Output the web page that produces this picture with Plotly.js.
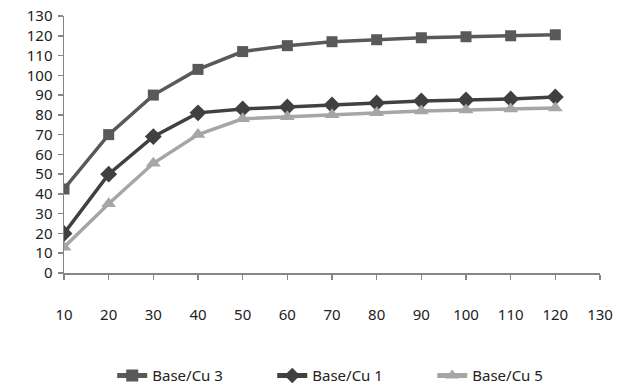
<!DOCTYPE html>
<html><head><meta charset="utf-8">
<script src="https://cdn.plot.ly/plotly-3.0.1.min.js"></script>
<style>body{margin:0;background:#fff}#c{width:628px;height:387px}</style>
</head><body><div id="c"></div>
<script>
const xs = [10,20,30,40,50,60,70,80,90,100,110,120];
const cu3 = [42.5,70,90,103,112,115,117,118,119,119.5,120,120.5];
const cu1 = [20,50,69,81,83,84,85,86,87,87.5,88,89];
const cu5 = [13,35,55.5,70,78,79,80,81,82,82.5,83,83.5];
const names = ['Base/Cu 3','Base/Cu 1','Base/Cu 5'];
const F = 'Noto Sans, DejaVu Sans, sans-serif';
const traces = [
 {x:xs,y:cu3,name:names[0],mode:'lines+markers',line:{color:'#595959',width:3.5},marker:{symbol:'square',size:11,color:'#595959'}},
 {x:xs,y:cu1,name:names[1],mode:'lines+markers',line:{color:'#404040',width:3.5},marker:{symbol:'diamond',size:13,color:'#404040'}},
 {x:xs,y:cu5,name:names[2],mode:'lines+markers',line:{color:'#a6a6a6',width:3.5},marker:{symbol:'triangle-up',size:13,color:'#a6a6a6'}}
];
const layout = {
 width:628,height:387,margin:{l:64,r:28,t:16,b:114,autoexpand:false},
 paper_bgcolor:'#fff',plot_bgcolor:'#fff',
 font:{family:F,size:15,color:'#222'},
 xaxis:{range:[10,130],dtick:10,tick0:10,showgrid:false,zeroline:false,showline:true,linecolor:'#868686',linewidth:1.5,ticks:'outside',ticklen:5,tickcolor:'#868686',tickwidth:1.5,ticklabelstandoff:22,tickfont:{family:F,size:15}},
 yaxis:{range:[0,130],dtick:10,showgrid:false,zeroline:false,showline:true,linecolor:'#868686',linewidth:1.5,ticks:'outside',ticklen:5,tickcolor:'#868686',tickwidth:1.5,ticklabelstandoff:2,tickfont:{family:F,size:15}},
 showlegend:true,
 legend:{orientation:'h',x:0.09,xanchor:'left',y:-0.40,yanchor:'middle',font:{family:F,size:15},itemsizing:'constant',entrywidth:115,entrywidthmode:'pixels'}
};
Plotly.newPlot('c',traces,layout,{staticPlot:true});
</script></body></html>
